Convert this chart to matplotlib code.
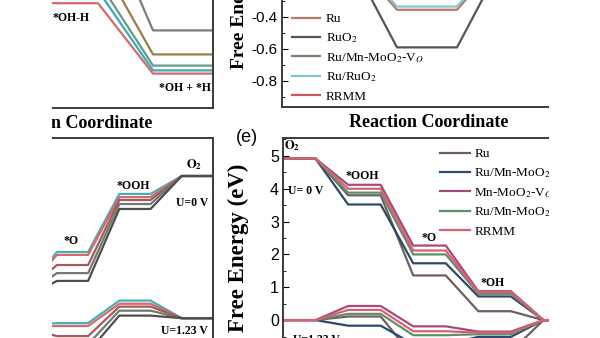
import matplotlib
matplotlib.use('Agg')
import matplotlib.pyplot as plt
from matplotlib.patches import Rectangle
from matplotlib.ticker import MultipleLocator

W, H, DPI = 600, 338, 100
plt.rcParams['font.family'] = ['Liberation Serif', 'DejaVu Serif']
plt.rcParams['mathtext.fontset'] = 'stix'
plt.rcParams['axes.unicode_minus'] = False

# ---------------- data ----------------
# top-left: water dissociation (TS "*OH-H" -> "*OH + *H")
tl_names = ['RuO$_2$', 'Ru', 'Ru/Mn-MoO$_2$-V$_O$', 'Ru/RuO$_2$', 'RRMM']
tl_colors = ['#7c7c7c', '#9c7c48', '#5f9c8c', '#3fa6b8', '#d56a6a']
tl_is = [0.0, 0.0, 0.0, 0.0, 0.0]
tl_ts = [0.61, 0.27, 0.12, 0.06, -0.02]
tl_fs = [-0.19, -0.34, -0.41, -0.44, -0.46]
tl_pos = [0, 1, 2, 3, 4, 5.1]

# top-right: H adsorption
tr_names = ['Ru', 'RuO$_2$', 'Ru/Mn-MoO$_2$-V$_O$', 'Ru/RuO$_2$', 'RRMM']
tr_colors = ['#b77a62', '#555555', '#76836f', '#7fc6d2', '#d05858']
tr_mid = [-0.355, -0.59, -0.22, -0.335, -0.25]
tr_pos = [0, 1.3, 2.3, 3.5, 4.5, 5.86]

# bottom-left: OER (H2O, *OH, *O, *OOH, O2)
bl_colors = ['#48aebb', '#d46a6a', '#a85a5a', '#707a70', '#4e4e4e']
bl_OH = [1.00, 0.95, 0.90, 0.80, 0.70]
bl_O = [2.29, 2.19, 1.84, 1.56, 1.29]
bl_OOH = [4.30, 4.19, 4.09, 3.95, 3.78]
O2_level = 4.92
potentials = [0.0, 1.23]

# panel (e): O2, *OOH, *O, *OH, H2O
e_names = ['Ru', 'Ru/Mn-MoO$_2$', 'Mn-MoO$_2$-V$_O$', 'Ru/Mn-MoO$_2$-V$_O$', 'RRMM']
e_colors = ['#6f5f60', '#2c4a6a', '#a64a7c', '#5e8f6e', '#d9616f']
e_OOH = [3.80, 3.52, 4.12, 3.88, 4.00]
e_O = [1.36, 1.73, 2.27, 2.00, 2.12]
e_OH = [0.27, 0.72, 0.88, 0.80, 0.85]
e_ticks = [0, 1, 2, 3, 4, 5]


def steps(levels):
    xs, ys = [], []
    for i, v in enumerate(levels):
        xs += [2 * i, 2 * i + 1]
        ys += [v, v]
    return xs, ys


def px_axes(x0, y0, x1, y1):
    return fig.add_axes([x0 / W, 1 - y1 / H, (x1 - x0) / W, (y1 - y0) / H])


spc = '#3a3a3a'
lw = 1.6
lab = dict(fontweight='bold', fontsize=13, family=['Liberation Serif'])
small = dict(fontweight='bold', fontsize=8.5, family=['Liberation Serif'])
tickfont = ['Liberation Sans']

fig = plt.figure(figsize=(W / DPI, H / DPI), dpi=DPI)

# ---------- top-left ----------
ax = px_axes(-67, 0, 213, 108)
for n, c, a, b, f in zip(tl_names, tl_colors, tl_is, tl_ts, tl_fs):
    ax.plot(tl_pos, [a, a, b, b, f, f], color=c, lw=lw, label=n)
ax.set_xlim(0, 280 / 55)
ax.set_ylim(-0.675, 0)
ax.set_xticks([]); ax.set_yticks([])
for s in ['top', 'left']:
    ax.spines[s].set_visible(False)
for s in ['right', 'bottom']:
    ax.spines[s].set_color(spc); ax.spines[s].set_linewidth(1.4)
ax.set_xlabel('Reaction Coordinate', labelpad=5, **lab)
ax.text(2.18, -0.1125, '*OH-H', ha='left', va='center', **small)
ax.text(5.05, -0.55, '*OH + *H', ha='right', va='center', **small)

# ---------- top-right ----------
ax = px_axes(282, 0, 575, 107)
for n, c, m in zip(tr_names, tr_colors, tr_mid):
    ax.plot(tr_pos, [0, 0, m, m, 0, 0], color=c, lw=lw, label=n)
ax.set_xlim(0, 5.86)
ax.set_ylim(-0.9625, -0.294)
ax.set_xticks([])
ax.set_yticks([-0.8, -0.6, -0.4])
ax.yaxis.set_minor_locator(MultipleLocator(0.1))
ax.tick_params(axis='y', which='both', direction='in', labelsize=11, pad=3)
ax.tick_params(axis='y', which='major', length=4)
ax.tick_params(axis='y', which='minor', length=2)
for t in ax.get_yticklabels():
    t.set_family(tickfont)
for s in ['top', 'right']:
    ax.spines[s].set_visible(False)
for s in ['left', 'bottom']:
    ax.spines[s].set_color(spc); ax.spines[s].set_linewidth(1.4)
ax.set_xlabel('Reaction Coordinate', labelpad=5, **lab)
ax.set_ylabel('Free Energy (eV)', fontweight='bold', fontsize=14,
              family=['Liberation Serif'])
ax.yaxis.set_label_coords((248 - 282) / 293, (107 + 3) / 107)
ax.legend(loc='upper left', bbox_to_anchor=(292 / W, 1 - 13 / H),
          bbox_transform=fig.transFigure, frameon=False, fontsize=9.5,
          handlelength=2.1, handletextpad=0.45, labelspacing=0.45,
          borderaxespad=0, borderpad=0)

# ---------- bottom-left ----------
ax = px_axes(-68, 138, 213, 338)
for i, c in enumerate(bl_colors):
    for U in potentials:
        lv = [0.0, bl_OH[i] - U, bl_O[i] - 2 * U, bl_OOH[i] - 3 * U, O2_level - 4 * U]
        xs, ys = steps(lv)
        ax.plot(xs, ys, color=c, lw=lw)
ax.set_xlim(0, 9)
ax.set_ylim(-0.685, 6.235)
ax.set_xticks([]); ax.set_yticks([])
for s in ['bottom', 'left']:
    ax.spines[s].set_visible(False)
for s in ['top', 'right']:
    ax.spines[s].set_color(spc); ax.spines[s].set_linewidth(1.4)
ax.text(4.46, 2.67, '*O', ha='center', va='center', **small)
ax.text(6.44, 4.57, '*OOH', ha='center', va='center', **small)
ax.text(8.39, 5.3, r'$\mathbf{O}_\mathbf{2}$', ha='center', va='center', fontsize=9)
ax.text(8.33, 3.99, 'U=0 V', ha='center', va='center', **small)
ax.text(8.07, -0.24, 'U=1.23 V', ha='center', va='top', **small)

# ---------- panel (e) ----------
ax = px_axes(283, 138, 576, 338)
for i, (n, c) in enumerate(zip(e_names, e_colors)):
    for U in potentials:
        lv = [O2_level - 4 * U, e_OOH[i] - 3 * U, e_O[i] - 2 * U, e_OH[i] - U, 0.0]
        xs, ys = steps(lv)
        ax.plot(xs, ys, color=c, lw=lw, label=n if U == 0 else None)
ax.set_xlim(0, 9)
ax.set_ylim(-0.545, 5.545)
ax.set_xticks([])
ax.set_yticks(e_ticks)
ax.yaxis.set_minor_locator(MultipleLocator(0.5))
ax.tick_params(axis='y', which='both', direction='in', labelsize=11.5, pad=3)
ax.tick_params(axis='y', which='major', length=4)
ax.tick_params(axis='y', which='minor', length=2)
for t in ax.get_yticklabels():
    t.set_family(tickfont)
for s in ['bottom', 'right']:
    ax.spines[s].set_visible(False)
for s in ['left', 'top']:
    ax.spines[s].set_color(spc); ax.spines[s].set_linewidth(1.4)
ax.set_ylabel('Free Energy (eV)', fontweight='bold', fontsize=16.5,
              family=['Liberation Serif'])
ax.yaxis.set_label_coords((249 - 283) / 293, (338 - 248) / 200)
ax.text(0.28, 5.3, r'$\mathbf{O}_\mathbf{2}$', ha='center', va='center', fontsize=9)
ax.text(2.42, 4.39, '*OOH', ha='center', va='center', **small)
ax.text(0.7, 3.94, 'U= 0 V', ha='center', va='center', **small)
ax.text(4.5, 2.5, '*O', ha='center', va='center', **small)
ax.text(6.45, 1.12, '*OH', ha='center', va='center', **small)
ax.text(0.3, -0.42, 'U=1.23 V', ha='left', va='top', **small)
ax.legend(loc='upper left', bbox_to_anchor=(440 / W, 1 - 148 / H),
          bbox_transform=fig.transFigure, frameon=False, fontsize=9.5,
          handlelength=2.3, handletextpad=0.3, labelspacing=0.45,
          borderaxespad=0, borderpad=0)

fig.text(247 / W, 1 - 137 / H, '(e)', ha='center', va='center',
         fontsize=13, family=['Liberation Sans'])

# crop masks (reference is a cut-out of a larger figure)
fig.add_artist(Rectangle((0, 0), 52 / W, 1, transform=fig.transFigure,
                         facecolor='white', edgecolor='none', zorder=100))
fig.add_artist(Rectangle((549 / W, 0), 1 - 549 / W, 1, transform=fig.transFigure,
                         facecolor='white', edgecolor='none', zorder=100))

fig.savefig('out.png', dpi=DPI)
